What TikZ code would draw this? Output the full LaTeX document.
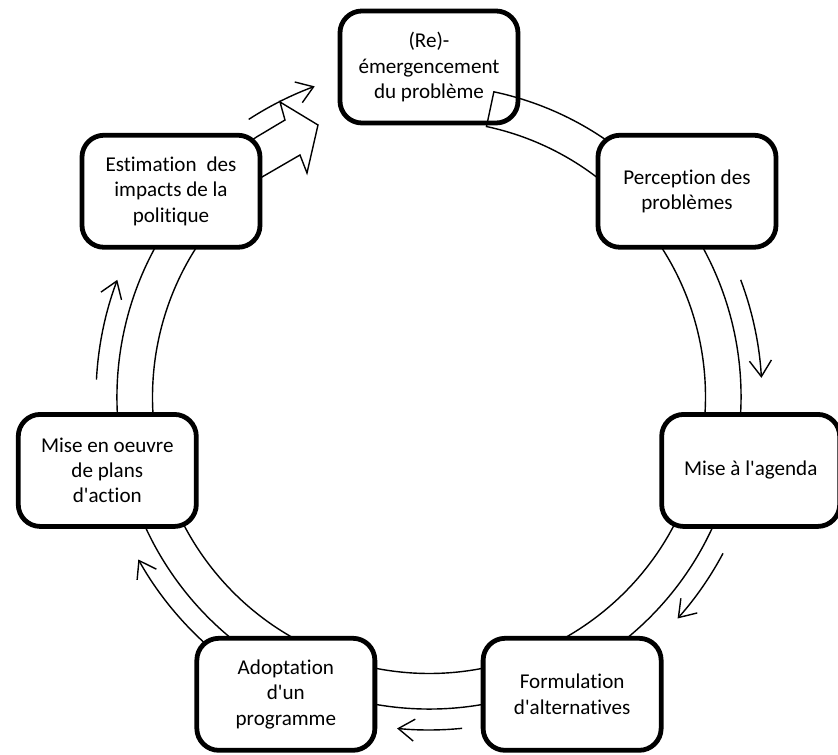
\documentclass[tikz,border=0pt]{standalone}
\usepackage{fontspec}
\setmainfont{Carlito}[Ligatures={TeXOff,CommonOff}]
\usetikzlibrary{arrows.meta}

\tikzstyle{etape} = [draw, line width=3.4pt, rounded corners=0.55cm, fill=white, align=center, minimum width=4.45cm, minimum height=2.8cm, inner sep=2pt, font=\fontsize{15}{18}\selectfont]
\tikzstyle{anneau} = [line width=1pt]
\tikzstyle{fleche} = [line width=1pt, -{Straight Barb[length=0.4cm,width=0.55cm]}]

\begin{document}
\begin{tikzpicture}[x=0.025cm, y=0.025cm]
\useasboundingbox (-429,-358) rectangle (409,397);
\node [etape] (re) at (90:330) {(Re)-\\émergencement\\du problème};
\draw [anneau] (78:312) arc [start angle=78, end angle=-236.5, radius=312]
	-- (-144,277) -- (-149,295) -- (-111,272) -- (-122,224) -- (-129,242) -- (127.7:276.5)
	arc [start angle=-232.3, end angle=78, radius=276.5] -- cycle;
\node [etape] (perc) at (38.57:330) {Perception des\\problèmes};
\node [etape] (agenda) at (-12.86:330) {Mise à l'agenda};
\node [etape] (form) at (-64.29:330) {Formulation\\d'alternatives};
\node [etape] (adop) at (-115.71:330) {Adoptation\\d'un\\programme};
\node [etape] (oeuvre) at (-167.14:330) {Mise en oeuvre\\de plans\\d'action};
\node [etape] (estim) at (141.43:330) {Estimation\hspace{0.25cm}des\\impacts de la\\politique};
\draw [fleche] (20.6:333) arc [start angle=20.6, end angle=3.3, radius=333];
\draw [fleche] (-28:333) arc [start angle=-28, end angle=-41.7, radius=333];
\draw [fleche] (-84.3:333) arc [start angle=-84.3, end angle=-95.5, radius=333];
\draw [fleche] (-132:333) arc [start angle=-132, end angle=-150.8, radius=333];
\draw [fleche] (177:333) arc [start angle=177, end angle=159.4, radius=333];
\draw [fleche] (123:331) arc [start angle=123, end angle=110.2, radius=331];
\end{tikzpicture}
\end{document}
